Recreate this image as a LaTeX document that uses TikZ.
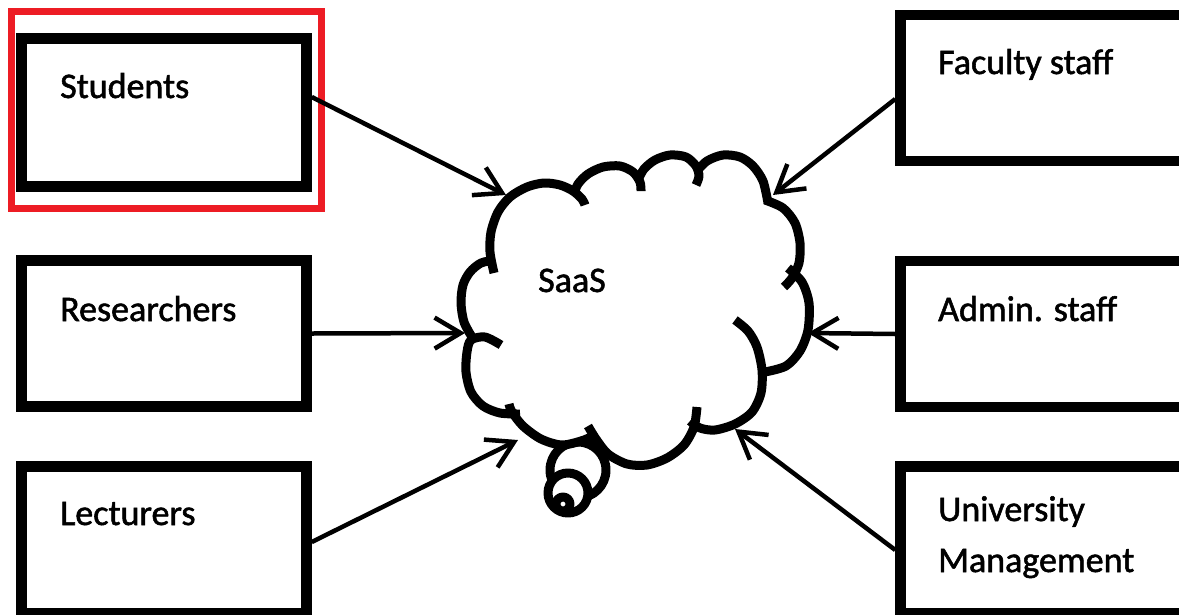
\documentclass[tikz,border=0pt]{standalone}
\usepackage{fontspec}
\setmainfont{Carlito}[FakeBold=1.5]
\usetikzlibrary{arrows.meta,calc}
\definecolor{frameRed}{RGB}{237,28,36}
\begin{document}
\begin{tikzpicture}[x=1pt,y=-1pt,
  box/.style={draw=black, line width=10.5pt, minimum width=285pt, inner sep=0pt},
  hilite/.style={draw=frameRed, line width=7pt, inner sep=0pt},
  boxtext/.style={anchor=base west, inner sep=0pt, font=\fontsize{36}{51}\selectfont, text=black, align=left},
  arrowline/.style={line width=4.5pt, -{Straight Barb[length=26pt,width=31pt]}},
  puff/.style={line width=9pt, line join=round},
]
\clip (0,0) rectangle (1179,614);
\fill[white] (0,0) rectangle (1179,614);

% user groups on the left
\node[box, minimum height=148pt] (stu) at (164,112.5) {};
\node[box, minimum height=146pt] (res) at (164,333.5) {};
\node[box, minimum height=147pt] (lec) at (164,540) {};
% highlight around the students box
\node[hilite, minimum width=310pt, minimum height=197pt] (hl) at (166.5,110) {};

% user groups on the right
\node[box, minimum width=290pt, minimum height=146pt] (fac) at (1045.5,88) {};
\node[box, minimum width=290pt, minimum height=146pt] (adm) at (1045.5,334) {};
\node[box, minimum width=290pt, minimum height=147pt] (uni) at (1045.5,540) {};

\node[boxtext] (tstu) at (60,98) {Students};
\node[boxtext] (tres) at (60,321) {Researchers};
\node[boxtext] (tlec) at (60,525) {Lecturers};
\node[boxtext] (tfac) at (938,74) {Faculty staff};
\node[boxtext] (tadm) at (938,321) {Admin. staff};
% the base anchor of a two-line node sits on its last line
\node[boxtext] (tuni) at (938,572) {University\\Management};

% thought bubbles below the cloud
\draw[puff, fill=white] (578,470) circle[radius=28pt];
\draw[puff, fill=white] (568,493) circle[radius=20pt];
\draw[puff, fill=white] (563,504) circle[radius=7pt];

% cloud body
\fill[white] (494,262) -- (490,245) -- (493,225) -- (503,205) -- (520,190) -- (544,183)
  -- (565,186) -- (578,188) -- (590,172) -- (610,166) -- (630,169) -- (640,180)
  -- (650,162) -- (670,155) -- (690,158) -- (705,160) -- (725,155) -- (745,160)
  -- (760,176) -- (768,200) -- (787,210) -- (797,228) -- (800,250) -- (795,272)
  -- (788,282) -- (803,284) -- (809,305) -- (807,332) -- (799,352) -- (784,367)
  -- (763,375) -- (762,393) -- (752,412) -- (735,424) -- (715,430) -- (697,428)
  -- (692,440) -- (680,450) -- (665,459) -- (647,465) -- (627,464) -- (608,454)
  -- (596,440) -- (583,442) -- (562,445) -- (541,439) -- (523,426) -- (512,413)
  -- (500,413) -- (483,406) -- (471,392) -- (466,372) -- (467,352) -- (468,336)
  -- (462,318) -- (461,300) -- (464,283) -- (472,270) -- (483,263) -- cycle;

% cloud outline, one bump at a time
\draw[puff] plot[smooth] coordinates {(494,273) (490,252) (491,232) (498,212) (510,197) (527,187) (544,183) (560,185) (573,191) (582,199) (585,205)};
\draw[puff] plot[smooth] coordinates {(574,194) (578,184) (588,174) (603,167) (620,166) (633,172) (640,182) (641,191)};
\draw[puff] plot[smooth] coordinates {(638,180) (644,169) (655,160) (670,155) (686,157) (696,166) (699,176) (696,185)};
\draw[puff] plot[smooth] coordinates {(696,172) (707,161) (723,155) (740,157) (753,166) (763,181) (768,203)};
\draw[puff] plot[smooth] coordinates {(765,200) (783,208) (795,223) (800,243) (799,263) (792,278) (784,287)};
\draw[puff] plot[smooth] coordinates {(788,268) (802,282) (809,303) (808,330) (800,351) (786,366) (765,372)};
\draw[puff] plot[smooth] coordinates {(735,320) (748,331) (757,347) (762,370) (761,393) (752,412) (735,424) (715,430) (700,428) (690,421)};
\draw[puff] plot[smooth] coordinates {(697,407) (694,427) (684,445) (667,458) (647,465) (627,464) (608,454) (596,439) (588,426)};
\draw[puff] plot[smooth] coordinates {(596,434) (584,440) (562,445) (541,439) (523,426) (512,412) (509,404)};
\draw[puff] plot[smooth] coordinates {(520,414) (500,413) (483,406) (471,392) (466,372) (467,352) (471,340) (485,337) (501,345)};
\draw[puff] plot[smooth] coordinates {(472,337) (464,322) (461,303) (463,285) (470,272) (481,263) (495,260)};

\node[boxtext] (saas) at (538,292) {SaaS};

% arrow tips on the cloud edge
\coordinate (tS) at (506,195);
\coordinate (tR) at (465,333);
\coordinate (tL) at (518,440);
\coordinate (tF) at (773,195);
\coordinate (tA) at (808,333);
\coordinate (tU) at (735,429);

\draw[arrowline] ([yshift=15.5pt]stu.east) -- (tS);
\draw[arrowline] (res.east) -- (tR);
\draw[arrowline] ([yshift=-2pt]lec.east) -- (tL);
\draw[arrowline] ([yshift=-11pt]fac.west) -- (tF);
\draw[arrowline] (adm.west) -- (tA);
\draw[arrowline] ([yshift=-10pt]uni.west) -- (tU);
\end{tikzpicture}
\end{document}
